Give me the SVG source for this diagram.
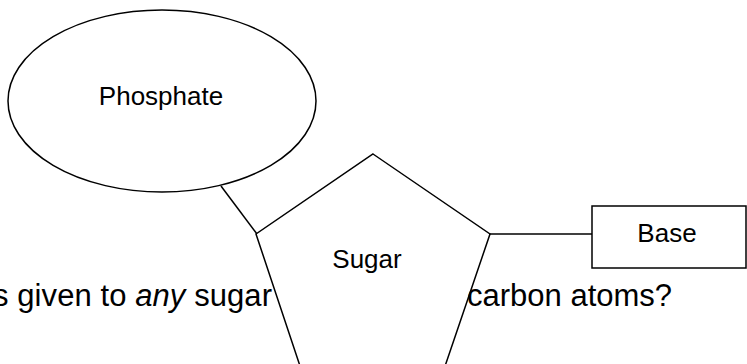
<svg xmlns="http://www.w3.org/2000/svg" width="747" height="364" viewBox="0 0 747 364">
<style>
.shape{fill:#fff;stroke:#000;stroke-width:1.5}
.conn{stroke:#000;stroke-width:1.5;fill:none}
.lbl{font-family:"Liberation Sans",Arial,sans-serif;font-size:26px;fill:#000}
.q{font-family:"Liberation Sans",Arial,sans-serif;font-size:31px;fill:#000}
</style>
<rect width="747" height="364" fill="#fff"/>
<g id="connectors">
<line class="conn" x1="221" y1="186" x2="257" y2="234"/>
<line class="conn" x1="490" y1="234" x2="592" y2="234"/>
</g>
<g id="phosphate">
<ellipse class="shape" cx="162" cy="101" rx="154" ry="91"/>
<text class="lbl" x="161" y="105" text-anchor="middle">Phosphate</text>
</g>
<g id="sugar">
<polygon class="shape" points="373,154 490,234 441,378 304,378 256,234"/>
<text class="lbl" x="367" y="268" text-anchor="middle">Sugar</text>
</g>
<g id="base">
<rect class="shape" x="592" y="206" width="154" height="62"/>
<text class="lbl" x="667" y="242" text-anchor="middle">Base</text>
</g>
<text class="q" x="-7" y="306" textLength="279" lengthAdjust="spacing">s given to <tspan font-style="italic">any</tspan> sugar</text>
<text class="q" x="467" y="306">carbon atoms?</text>
</svg>
